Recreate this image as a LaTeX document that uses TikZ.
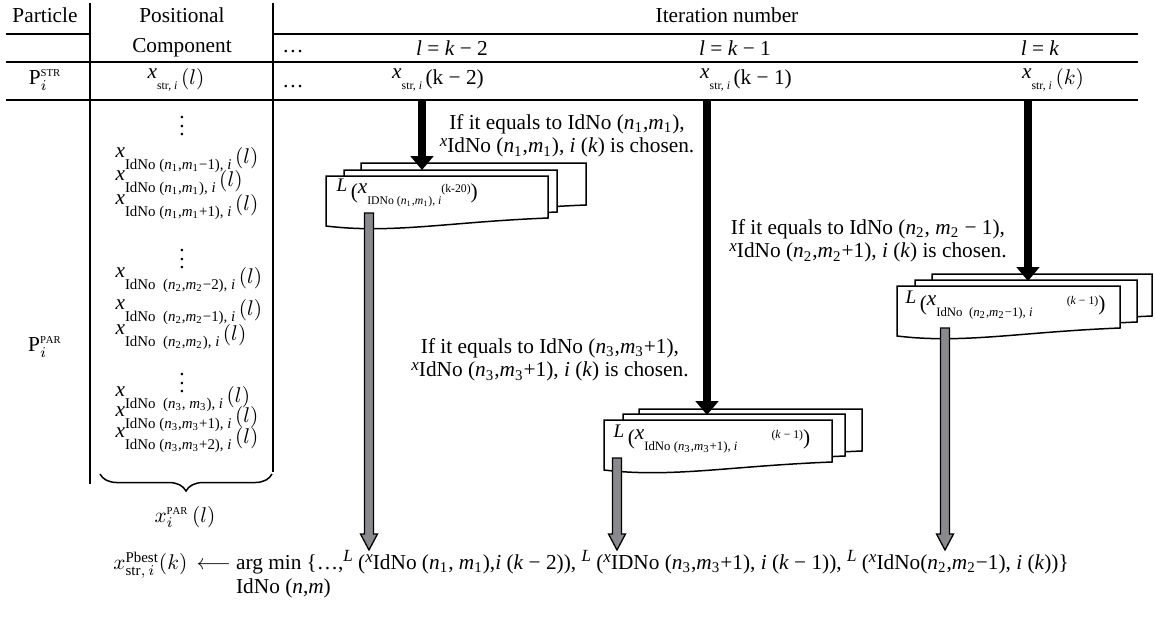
\documentclass[tikz,border=0pt]{standalone}
\usepackage{amsmath}
\usepackage{fontspec}
\setmainfont{Liberation Serif}
\usepackage{tikz}
\usetikzlibrary{
arrows.meta,
positioning,
calc,
decorations.pathreplacing
}
\definecolor{dropgray}{RGB}{138,138,142}
% raised x with a small lowered index
\newcommand{\xsub}[2][5.5pt]{\raisebox{0.6ex}{\textit{x}}\raisebox{-0.55ex}{\fontsize{#1}{#1}\selectfont#2}}
\newcommand{\ix}[2]{\textit{#1}\textsubscript{#2}}
\newcommand{\droparrow}[2]{%
  \draw[fill=dropgray, line width=0.6pt, line join=miter]
    ($(#1)+(-4.5,0)$) -- ($(#2)+(-4.5,-16)$) -- ($(#2)+(-8.5,-16)$) -- (#2)
    -- ($(#2)+(8.5,-16)$) -- ($(#2)+(4.5,-16)$) -- ($(#1)+(4.5,0)$) -- cycle;}

\begin{document}
\begin{tikzpicture}[x=0.0165cm, y=-0.0165cm,
  rule/.style={line width=0.8pt},
  cell/.style={inner sep=1pt},
  entry/.style={anchor=west, inner sep=1pt},
  note/.style={align=center, inner sep=1pt, font=\fontsize{10pt}{11pt}\selectfont},
  page/.style={fill=white, line width=0.7pt},
  pick/.style={line width=4pt, -{Triangle[width=10.5pt, length=6.5pt]}}]
  \useasboundingbox (0,0) rectangle (1156,616);

  % Table rules
  \draw[rule] (6,34) -- (90,34);
  \draw[rule] (273,34) -- (1138,34);
  \draw[rule] (6,62) -- (1138,62);
  \draw[rule] (6,100) -- (1138,100);
  \draw[rule] (90,3) -- (90,484);
  \draw[rule] (273,3) -- (273,472);

  % Header
  \node[cell] (hpart) at (45,15) {Particle};
  \node[cell] (hpos) at (182,15) {Positional};
  \node[cell] (hcomp) at (182,48) {Component};
  \node[cell] (hiter) at (727,15) {Iteration number};
  \node[cell] (hdots) at (293,52) {\dots};
  \node[cell] (hkm2) at (452,48) {\textit{l} = \textit{k} − 2};
  \node[cell] (hkm1) at (735,48) {\textit{l} = \textit{k} − 1};
  \node[cell] (hk) at (1040,48) {\textit{l} = \textit{k}};

  % Row of P_i^STR
  \node[cell] (pstr) at (45,80) {P$_{i}^{\scriptscriptstyle\mathrm{STR}}$};
  \node[cell] (strl) at (176,80) {\xsub{str, \textit{i}}\,$(l)$};
  \node[cell] (sdots) at (293,87) {\dots};
  \node[cell] (strkm2) at (438,80) {\xsub{str, \textit{i}}\,(k − 2)};
  \node[cell] (strkm1) at (746,80) {\xsub{str, \textit{i}}\,(k − 1)};
  \node[cell] (strk) at (1053,80) {\xsub{str, \textit{i}}\,$(k)$};

  % Positional components of P_i^PAR
  \node[cell] (pdots1) at (182,120) {$\vdots$};
  \node[entry] (c11) at (113,160) {\xsub[7pt]{IdNo (\ix{n}{1},\ix{m}{1}−1), \textit{i}}\,$(l)$};
  \node[entry] (c12) at (113,183) {\xsub[7pt]{IdNo (\ix{n}{1},\ix{m}{1}), \textit{i}}\,$(l)$};
  \node[entry] (c13) at (113,207) {\xsub[7pt]{IdNo (\ix{n}{1},\ix{m}{1}+1), \textit{i}}\,$(l)$};
  \node[cell] (pdots2) at (182,253) {$\vdots$};
  \node[entry] (c21) at (113,280) {\xsub[7pt]{IdNo\ \ (\ix{n}{2},\ix{m}{2}−2), \textit{i}}\,$(l)$};
  \node[entry] (c22) at (113,312) {\xsub[7pt]{IdNo\ \ (\ix{n}{2},\ix{m}{2}−1), \textit{i}}\,$(l)$};
  \node[entry] (c23) at (113,337) {\xsub[7pt]{IdNo\ \ (\ix{n}{2},\ix{m}{2}), \textit{i}}\,$(l)$};
  \node[cell] (pdots3) at (182,377) {$\vdots$};
  \node[entry] (c31) at (113,399) {\xsub[7pt]{IdNo\ \ (\ix{n}{3}, \ix{m}{3}), \textit{i}}\,$(l)$};
  \node[entry] (c32) at (113,419) {\xsub[7pt]{IdNo (\ix{n}{3},\ix{m}{3}+1), \textit{i}}\,$(l)$};
  \node[entry] (c33) at (113,440) {\xsub[7pt]{IdNo (\ix{n}{3},\ix{m}{3}+2), \textit{i}}\,$(l)$};
  \node[cell] (ppar) at (45,347) {P$_{i}^{\scriptscriptstyle\mathrm{PAR}}$};
  \draw[line width=0.7pt, decorate, decoration={brace, mirror, amplitude=8pt}]
    (100,474) -- (272,474);
  \node[cell] (xpar) at (185,517) {$x_{i}^{\scriptscriptstyle\mathrm{PAR}}\,(l)$};

  % Stack for l = k-2
  \foreach \px/\py/\pw in {361/163/225, 344/170/213, 326/176/222}
    \draw[page] (\px,\py) -- (\px+\pw,\py) -- (\px+\pw,\py+42)
      .. controls (\px+0.55*\pw,\py+46) and (\px+0.3*\pw,\py+58) .. (\px,\py+50) -- cycle;
  \node[anchor=north west, inner sep=1pt] (lossA) at (334,176)
    {\raisebox{0.8ex}{\small\textit{L}}\,(\xsub{IDNo (\ix{n}{1},\ix{m}{1}), \textit{i}}\raisebox{0.7ex}{\fontsize{5.5pt}{5.5pt}\selectfont(k-20)})};

  % Stack for l = k-1
  \foreach \px/\py/\pw in {639/409/223, 623/414/222, 604/420/228}
    \draw[page] (\px,\py) -- (\px+\pw,\py) -- (\px+\pw,\py+42)
      .. controls (\px+0.55*\pw,\py+46) and (\px+0.3*\pw,\py+58) .. (\px,\py+50) -- cycle;
  \node[anchor=north west, inner sep=1pt] (lossB) at (611,422)
    {\raisebox{0.8ex}{\small\textit{L}}\,(\xsub[6pt]{IdNo (\ix{n}{3},\ix{m}{3}+1), \textit{i}}\hspace{1.6em}\raisebox{0.7ex}{\fontsize{5.5pt}{5.5pt}\selectfont(\textit{k} − 1)})};

  % Stack for l = k
  \foreach \px/\py/\pw in {932/274/220, 915/280/222, 897/286/223}
    \draw[page] (\px,\py) -- (\px+\pw,\py) -- (\px+\pw,\py+42)
      .. controls (\px+0.55*\pw,\py+46) and (\px+0.3*\pw,\py+58) .. (\px,\py+50) -- cycle;
  \node[anchor=north west, inner sep=1pt] (lossC) at (903,288)
    {\raisebox{0.8ex}{\small\textit{L}}\,(\xsub[6pt]{IdNo\ \ (\ix{n}{2},\ix{m}{2}−1), \textit{i}}\hspace{1.6em}\raisebox{0.7ex}{\fontsize{5.5pt}{5.5pt}\selectfont(\textit{k} − 1)})};

  % Choices of the best position
  \coordinate (pickA) at (422,100);
  \coordinate (pickAend) at (422,170);
  \coordinate (pickB) at (707,100);
  \coordinate (pickBend) at (707,415);
  \coordinate (pickC) at (1028,100);
  \coordinate (pickCend) at (1028,281);
  \draw[pick] (pickA) -- (pickAend);
  \draw[pick] (pickB) -- (pickBend);
  \draw[pick] (pickC) -- (pickCend);
  \node[note] (noteA) at (567,136)
    {If it equals to IdNo (\ix{n}{1},\ix{m}{1}),\\\raisebox{0.7ex}{\footnotesize\textit{x}}IdNo (\ix{n}{1},\ix{m}{1}), \textit{i} (\textit{k}) is chosen.};
  \node[note] (noteB) at (868,241)
    {If it equals to IdNo (\ix{n}{2}, \ix{m}{2} − 1),\\\raisebox{0.7ex}{\footnotesize\textit{x}}IdNo (\ix{n}{2},\ix{m}{2}+1), \textit{i} (\textit{k}) is chosen.};
  \node[note] (noteC) at (550,360)
    {If it equals to IdNo (\ix{n}{3},\ix{m}{3}+1),\\\raisebox{0.7ex}{\footnotesize\textit{x}}IdNo (\ix{n}{3},\ix{m}{3}+1), \textit{i} (\textit{k}) is chosen.};

  % Personal best
  \node[anchor=west, inner sep=0pt] (pbest) at (113,565) {$x^{\mathrm{Pbest}}_{\mathrm{str},\,i}(k)$};
  \node[base right=4pt of pbest, inner sep=0pt] (gets) {$\longleftarrow$};
  \node[base right=2pt of gets, inner sep=0pt] (argmin) {arg min};
  \node[base right=2pt of argmin, inner sep=0pt] (lossset)
    {\{…,\raisebox{0.8ex}{\footnotesize\textit{L}} (\raisebox{0.7ex}{\footnotesize\textit{x}}IdNo (\ix{n}{1}, \ix{m}{1}),\textit{i} (\textit{k} − 2)), \raisebox{0.8ex}{\footnotesize\textit{L}} (\raisebox{0.7ex}{\footnotesize\textit{x}}IDNo (\ix{n}{3},\ix{m}{3}+1), \textit{i} (\textit{k} − 1)), \raisebox{0.8ex}{\footnotesize\textit{L}} (\raisebox{0.7ex}{\footnotesize\textit{x}}IdNo(\ix{n}{2},\ix{m}{2}−1), \textit{i} (\textit{k}))\}};
  \node[anchor=north west, inner sep=0pt] (argsub) at ($(argmin.south west)+(0,4)$) {IdNo (\textit{n},\textit{m})};

  \coordinate (dropA) at (369,213);
  \coordinate (dropB) at (617,458);
  \coordinate (dropC) at (945,328);
  \coordinate (dropAend) at (369,550);
  \coordinate (dropBend) at (617,550);
  \coordinate (dropCend) at (945,550);
  \droparrow{dropA}{dropAend}
  \droparrow{dropB}{dropBend}
  \droparrow{dropC}{dropCend}
\end{tikzpicture}
\end{document}
